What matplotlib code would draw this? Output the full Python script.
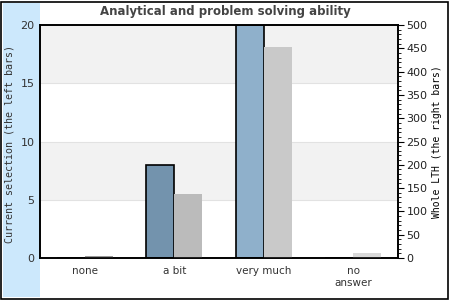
import matplotlib.pyplot as plt
from matplotlib.patches import Rectangle
from matplotlib.ticker import MultipleLocator

categories = ["none", "a bit", "very much", "no\nanswer"]
current = [0, 8, 20, 0]
whole = [4, 137, 453, 10]

left_colors = ["#7393ad", "#7393ad", "#8fb0cb", "#8fb0cb"]
right_colors = ["#999999", "#bbbbbb", "#c9c9c9", "#d9d9d9"]

fig = plt.figure(figsize=(4.5, 3), dpi=100)

# faixa azul à esquerda e moldura
fig.patches.append(Rectangle((3/450, 3/300), 37/450, 294/300, transform=fig.transFigure,
                             facecolor="#cce8fc", edgecolor="none", zorder=-1))
fig.patches.append(Rectangle((1/450, 1/300), 447/450, 297/300, transform=fig.transFigure,
                             facecolor="none", edgecolor="black", lw=1.2, zorder=5))

ax = fig.add_axes([40/450, 42/300, 358/450, 233/300])
ax.set_xlim(-0.5, 3.5)
ax.set_ylim(0, 20)

for lo, hi, c in [(0, 5, "white"), (5, 10, "#f2f2f2"), (10, 15, "white"), (15, 20, "#f2f2f2")]:
    ax.axhspan(lo, hi, color=c, zorder=0, lw=0)
for y in [5, 10, 15]:
    ax.axhline(y, color="#e2e2e2", lw=0.8, zorder=0.5)

w = 0.315
x = list(range(len(categories)))
ax.bar([i - w/2 for i in x], current, width=w, color=left_colors,
       edgecolor="black", linewidth=1.2, zorder=2)

ax2 = ax.twinx()
ax2.set_ylim(0, 500)
ax2.bar([i + w/2 for i in x], whole, width=w, color=right_colors, edgecolor="none", zorder=2)

ax.set_xticks(x)
ax.set_xticklabels(categories, fontsize=7.5, color="#333333")
ax.tick_params(axis="x", length=0, pad=6)
ax.set_yticks([0, 5, 10, 15, 20])
ax.tick_params(axis="y", length=0, pad=4, labelsize=8, labelcolor="#333333")

ax2.yaxis.set_major_locator(MultipleLocator(50))
ax2.yaxis.set_minor_locator(MultipleLocator(10))
ax2.tick_params(axis="y", which="major", length=4, labelsize=8, labelcolor="#222222", pad=2)
ax2.tick_params(axis="y", which="minor", length=2)

for s in ["top", "right", "left", "bottom"]:
    ax.spines[s].set_linewidth(1.2)
    ax2.spines[s].set_linewidth(1.2)

ax.set_ylabel("Current selection (the left bars)", family="DejaVu Sans Mono",
              fontsize=7.2, color="#333333")
ax.yaxis.set_label_coords(-0.072, 0.49)
ax2.set_ylabel("Whole LTH (the right bars)", family="DejaVu Sans Mono",
               fontsize=7, color="black", labelpad=3)

fig.text(0.5, 1 - 12/300, "Analytical and problem solving ability", fontsize=8.5,
         fontweight="bold", color="#444444", ha="center", va="center")

plt.savefig("out.png", dpi=100)
